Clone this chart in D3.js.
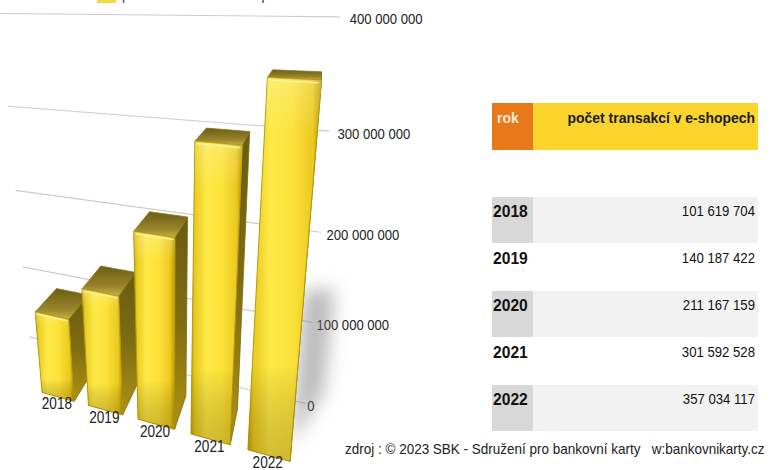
<!DOCTYPE html>
<html>
<head>
<meta charset="utf-8">
<script src="https://cdn.jsdelivr.net/npm/d3@7/dist/d3.min.js"></script>
<style>
  html, body { margin: 0; padding: 0; background: #fff; }
  svg { display: block; font-family: "Liberation Sans", Arial, sans-serif; }
</style>
</head>
<body>
<svg id="chart" width="773" height="470"></svg>
<script>
// ---- data ----
const years = ["2018", "2019", "2020", "2021", "2022"];
const transactions = [101619704, 140187422, 211167159, 301592528, 357034117];
const valueTicks = [0, 100000000, 200000000, 300000000, 400000000];
const seriesName = "počet transakcí v e-shopech";
const tableHeader = ["rok", "počet transakcí v e-shopech"];
const sourceNote = "zdroj : © 2023 SBK - Sdružení pro bankovní karty   w:bankovnikarty.cz";

const svg = d3.select("#chart");
const fmt = d3.formatLocale({ decimal: ",", thousands: " ", grouping: [3], currency: ["", ""] }).format(",d");

// ---- 3D scene: world units, camera with perspective ----
const cam = { x: 0, y: 4.14, z: 0, yaw: -17.2 * Math.PI / 180, pitch: 14.6 * Math.PI / 180, f: 462, cx: 172, cy: 120 };
function project([X, Y, Z]) {
  const dx = X - cam.x, dy = Y - cam.y, dz = Z - cam.z;
  const s = Math.sin(cam.yaw), c = Math.cos(cam.yaw);
  const w = dx * c - dz * s, u = dx * s + dz * c;
  const sp = Math.sin(cam.pitch), cp = Math.cos(cam.pitch);
  const yc = dy * cp + u * sp, zc = u * cp - dy * sp;
  return [cam.cx + cam.f * w / zc, cam.cy - cam.f * yc / zc];
}
const poly = pts => "M" + pts.map(p => project(p).map(v => v.toFixed(2)).join(",")).join("L") + "Z";

// value -> world height, category -> world position along the row
const yScale = d3.scaleLinear().domain([0, 400000000]).range([0, 4]);
const xScale = d3.scaleBand().domain(years).range([-2.570, 0.056]).paddingInner(0.302).paddingOuter(0);
const zFront = 3.518, barDepth = 0.42, zWall = 4.22;
const wallLeft = -3.204, wallRight = 0.171;

// ---- gradients ----
const defs = svg.append("defs");
function grad(id, x2, y2, stops) {
  const g = defs.append("linearGradient").attr("id", id)
    .attr("x1", 0).attr("y1", 0).attr("x2", x2).attr("y2", y2);
  stops.forEach(([o, c, a]) => g.append("stop").attr("offset", o).attr("stop-color", c).attr("stop-opacity", a == null ? 1 : a));
}
grad("frontGrad", 1, 0, [[0, "#c8a600"], [0.08, "#e9cc22"], [0.3, "#fde845"], [0.6, "#fbe23a"], [0.88, "#ecca1f"], [1, "#b89700"]]);
grad("frontShade", 0, 1, [[0, "#fffbe0", 0.25], [0.15, "#ffffff", 0], [0.75, "#000000", 0], [1, "#6b4f00", 0.28]]);
grad("sideGrad", 0, 1, [[0, "#6a5b10"], [0.5, "#7f6d12"], [1, "#b09212"]]);
grad("topGrad", 0, 1, [[0, "#6b5d14"], [0.65, "#978329"], [1, "#c9b33f"]]);
defs.append("filter").attr("id", "soft").attr("x", "-60%").attr("y", "-60%").attr("width", "220%").attr("height", "220%")
  .append("feGaussianBlur").attr("stdDeviation", 9);

// ---- legend (mostly above the visible area) ----
svg.append("rect").attr("x", 97).attr("y", -10).attr("width", 19).attr("height", 13).attr("fill", "#f0d84a");
svg.append("text").attr("transform", "translate(122,0) scale(0.9,1)")
  .attr("font-size", 15).attr("fill", "#333").text(seriesName);

// ---- back wall gridlines ----
const chart = svg.append("g");
chart.selectAll("path.grid").data(valueTicks).join("path")
  .attr("class", "grid")
  .attr("d", t => { const a = project([wallLeft, yScale(t), zWall]), b = project([wallRight, yScale(t), zWall]); return `M${a}L${b}`; })
  .attr("stroke", "#cccccc").attr("stroke-width", 1.1).attr("fill", "none");

// value axis labels at the right end of the wall
chart.selectAll("text.vlab").data(valueTicks).join("text")
  .attr("class", "vlab")
  .attr("transform", t => { const p = project([wallRight, yScale(t), zWall]); return `translate(${p[0] + 2 + 2 * t / 100000000},${p[1] + 2}) scale(0.85,1)`; })
  .attr("font-size", 15.4).attr("fill", "#222").attr("dominant-baseline", "central")
  .text(t => fmt(t));

// soft shadow beside the nearest bar
chart.append("path")
  .attr("d", poly([[0.06, 1.5, 4.0], [0.36, 1.3, 4.4], [0.36, 0.05, 4.4], [0.06, 0.05, 3.65]]))
  .attr("fill", "#777").attr("opacity", 0.5).attr("filter", "url(#soft)");

// ---- bars ----
const bars = chart.selectAll("g.bar").data(years.map((y, i) => ({ year: y, value: transactions[i] }))).join("g").attr("class", "bar");
bars.each(function (d) {
  const g = d3.select(this);
  const x0 = xScale(d.year), x1 = x0 + xScale.bandwidth();
  const z0 = zFront, z1 = zFront + barDepth, h = yScale(d.value);
  const side = [[x1, 0, z0], [x1, 0, z1], [x1, h, z1], [x1, h, z0]];
  const top = [[x0, h, z1], [x1, h, z1], [x1, h, z0], [x0, h, z0]];
  const front = [[x0, 0, z0], [x1, 0, z0], [x1, h, z0], [x0, h, z0]];
  g.append("path").attr("d", poly(side)).attr("fill", "url(#sideGrad)").attr("stroke", "#7a6a12").attr("stroke-width", 0.8).attr("stroke-linejoin", "round");
  g.append("path").attr("d", poly(top)).attr("fill", "url(#topGrad)").attr("stroke", "#8a7820").attr("stroke-width", 0.8).attr("stroke-linejoin", "round");
  g.append("path").attr("d", poly(front)).attr("fill", "url(#frontGrad)").attr("stroke", "#b89a08").attr("stroke-width", 1).attr("stroke-linejoin", "round");
  g.append("path").attr("d", poly(front)).attr("fill", "url(#frontShade)");
  // bevel highlight along the front top edge
  const a = project([x0 + 0.02, h - 0.02, z0]), b = project([x1 - 0.02, h - 0.02, z0]);
  g.append("path").attr("d", `M${a}L${b}`).attr("stroke", "#fff6a8").attr("stroke-width", 1.6).attr("stroke-linecap", "round").attr("opacity", 0.8);
  // category label under the bar
  const p = project([x0 + xScale.bandwidth() / 2, 0, z0]);
  g.append("text").attr("transform", `translate(${p[0] - 1},${p[1] + 7}) scale(0.85,1)`)
    .attr("font-size", 16).attr("fill", "#222").attr("text-anchor", "middle").attr("dominant-baseline", "central")
    .text(d.year);
});

// ---- table ----
const table = svg.append("g");
const rowKeys = ["header", "blank", ...years];
const rowScale = d3.scaleBand().domain(rowKeys).range([103, 432]);
const colA = [492, 533], colB = [533, 758];
const rh = rowScale.bandwidth();

table.append("rect").attr("x", colA[0]).attr("y", rowScale("header")).attr("width", colA[1] - colA[0]).attr("height", rh).attr("fill", "#e8791b");
table.append("rect").attr("x", colB[0]).attr("y", rowScale("header")).attr("width", colB[1] - colB[0]).attr("height", rh).attr("fill", "#fcd52c");
table.append("text").attr("transform", `translate(${colA[0] + 5},${rowScale("header") + 15}) scale(0.93,1)`)
  .attr("font-size", 15).attr("font-weight", "bold").attr("fill", "#fde8d8").attr("dominant-baseline", "central").text(tableHeader[0]);
table.append("text").attr("transform", `translate(${colB[1] - 3},${rowScale("header") + 15}) scale(0.93,1)`)
  .attr("font-size", 15).attr("font-weight", "bold").attr("fill", "#1a1a1a").attr("text-anchor", "end").attr("dominant-baseline", "central").text(tableHeader[1]);

const rows = table.selectAll("g.row").data(years.map((y, i) => ({ year: y, value: transactions[i], i }))).join("g").attr("class", "row");
rows.filter(d => d.i % 2 === 0).append("rect")
  .attr("x", colA[0]).attr("y", d => rowScale(d.year)).attr("width", colA[1] - colA[0]).attr("height", rh - 1).attr("fill", "#d8d8d8");
rows.filter(d => d.i % 2 === 0).append("rect")
  .attr("x", colB[0]).attr("y", d => rowScale(d.year)).attr("width", colB[1] - colB[0]).attr("height", rh - 1).attr("fill", "#f2f2f2");
rows.append("text").attr("transform", d => `translate(${colA[0] + 1},${rowScale(d.year) + 14}) scale(0.92,1)`)
  .attr("font-size", 17).attr("font-weight", "bold").attr("fill", "#111").attr("dominant-baseline", "central").text(d => d.year);
rows.append("text").attr("transform", d => `translate(${colB[1] - 3},${rowScale(d.year) + 14}) scale(0.94,1)`)
  .attr("font-size", 14).attr("fill", "#111").attr("text-anchor", "end").attr("dominant-baseline", "central").text(d => fmt(d.value));

// ---- source note ----
svg.append("text").attr("transform", "translate(345,454) scale(0.9,1)")
  .attr("font-size", 15).attr("fill", "#222").style("white-space", "pre")
  .text(sourceNote);
</script>
</body>
</html>
